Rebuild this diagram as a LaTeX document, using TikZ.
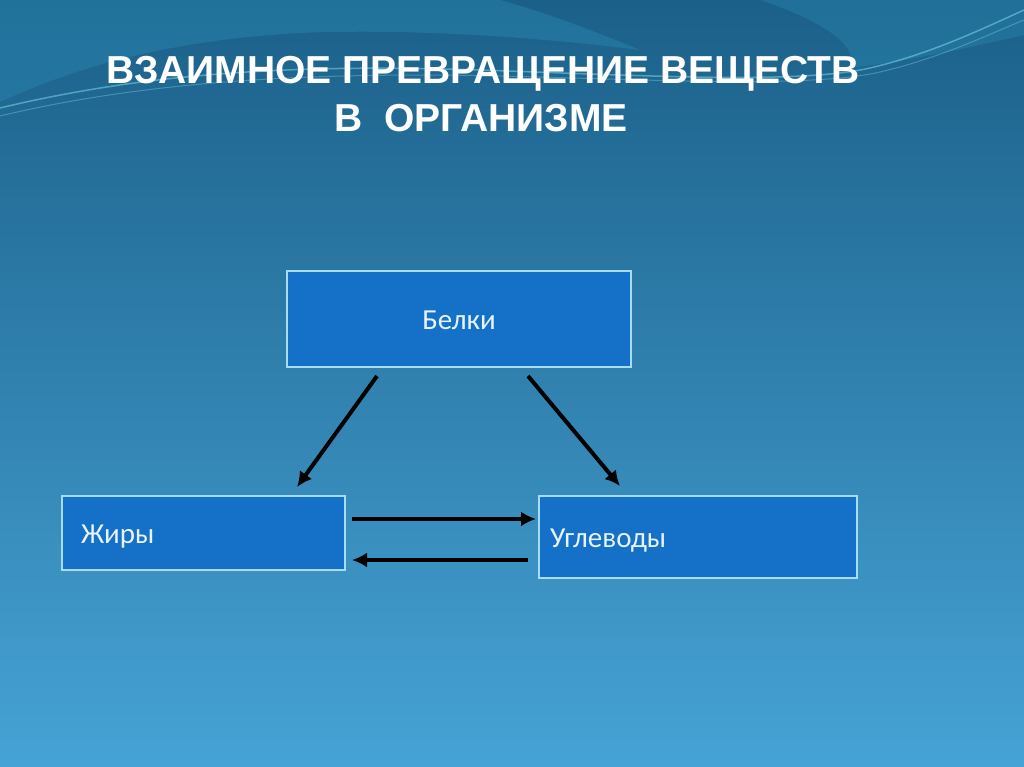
\documentclass[tikz,border=0pt]{standalone}
\usepackage{fontspec}
\setmainfont{Carlito}
\newfontfamily\titlefont{Liberation Sans}
\usepackage{tikz}
\usetikzlibrary{arrows.meta}

\definecolor{boxfill}{HTML}{1570C8}
\definecolor{boxline}{HTML}{A6DDF5}
\definecolor{boxtext}{HTML}{E8F4FC}
\definecolor{bgtop}{HTML}{1B6089}
\definecolor{bgmid}{HTML}{2C80B5}
\definecolor{bgbot}{HTML}{46A3D5}
\definecolor{wavelight}{HTML}{2A88B2}
\definecolor{wavecyan}{HTML}{7FE3F0}

\begin{document}
\begin{tikzpicture}[x=1pt, y=-1pt, >={Latex[length=15pt, width=15pt]},
     every node/.style = {outer sep = 0pt},
     box/.style = {draw=boxline, fill=boxfill, line width=1.5pt,
     text=boxtext, font=\fontsize{29}{34}\selectfont,
     text height=21pt, text depth=0pt},
     arr/.style = {->, line width=4pt, black}]
        % background
        \useasboundingbox (0,0) rectangle (1024,767);
        \shade [top color=bgtop, middle color=bgmid, bottom color=bgbot]
            (0,0) rectangle (1024,767);
        \fill [wavelight, opacity=0.45] (0,0) -- (0,102)
            .. controls (90,60) and (200,35) .. (330,32)
            .. controls (450,30) and (560,40) .. (640,50)
            .. controls (580,25) and (530,8) .. (500,0) -- cycle;
        \fill [wavelight, opacity=0.4] (760,0) -- (1024,0) -- (1024,35)
            .. controls (960,50) and (900,62) .. (850,68)
            .. controls (860,45) and (820,20) .. (760,0) -- cycle;
        \draw [wavecyan, opacity=0.5, line width=1.5pt] (0,108)
            .. controls (150,72) and (300,64) .. (480,70)
            .. controls (650,76) and (800,84) .. (870,68)
            .. controls (930,54) and (980,30) .. (1024,10);
        \draw [wavecyan, opacity=0.35, line width=1pt] (0,116)
            .. controls (150,80) and (320,72) .. (500,76)
            .. controls (660,80) and (810,88) .. (880,72)
            .. controls (940,58) and (985,36) .. (1024,20);
        % title
        \node [font=\titlefont\bfseries\fontsize{39}{44}\selectfont,
                text=white, anchor=base]
            at (483,84)  (T1) {ВЗАИМНОЕ ПРЕВРАЩЕНИЕ ВЕЩЕСТВ};
        \node [font=\titlefont\bfseries\fontsize{39}{44}\selectfont,
                text=white, anchor=base]
            at (481,132) (T2) {В\ \ ОРГАНИЗМЕ};
        % boxes
        \node [box, minimum width=344pt, minimum height=96pt]
            at (459,319) (P) {Белки};
        \node [box, text width=245pt, inner xsep=19pt, align=left,
                minimum height=74pt]
            at (203.5,533) (F) {Жиры};
        \node [box, text width=296pt, inner xsep=11pt, align=left,
                minimum height=82pt]
            at (698,537) (C) {Углеводы};
        % arrows
        \draw [arr] ([xshift=-82pt, yshift=-9pt]P.south)
            -- ([xshift=93.5pt, yshift=9pt]F.north);
        \draw [arr] ([xshift=69pt, yshift=-9pt]P.south)
            -- ([xshift=-78pt, yshift=10pt]C.north);
        \draw [arr] ([xshift=7pt, yshift=14pt]F.east)
            -- ([xshift=-3pt, yshift=18pt]C.west);
        \draw [arr] ([xshift=-11pt, yshift=-23pt]C.west)
            -- ([xshift=7pt, yshift=-27pt]F.east);
\end{tikzpicture}
\end{document}
